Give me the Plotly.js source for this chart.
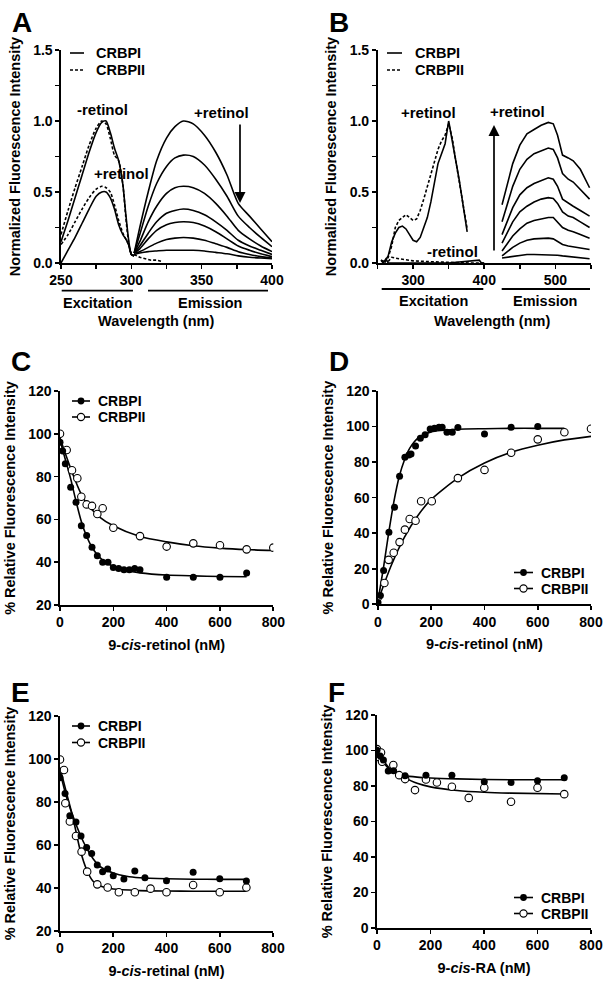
<!DOCTYPE html>
<html><head><meta charset="utf-8">
<script src="https://cdn.plot.ly/plotly-3.0.1.min.js"></script>
<style>html,body{margin:0;padding:0;background:#fff}#chart{width:612px;height:985px}</style>
</head><body><div id="chart"></div>
<script>
// ---------- Panel A : excitation (CRBPI solid, CRBPII dashed) ----------
const aExcWl = [250,255,260,265,270,275,279,282,285,288,291,294,296,298,300,302];
const aExcCRBPI_minus  = [0.15,0.30,0.46,0.62,0.78,0.92,0.99,1.00,0.92,0.81,0.72,0.55,0.35,0.17,0.06,0.05];
const aExcCRBPII_minus = [0.20,0.37,0.53,0.68,0.83,0.95,1.00,0.98,0.88,0.76,0.72,0.55,0.33,0.15,0.06,0.05];
const aExcCRBPI_plus   = [0.00,0.09,0.18,0.28,0.38,0.47,0.50,0.50,0.46,0.38,0.27,0.20,0.17,0.13,0.06,0.05];
const aExcCRBPII_plus  = [0.13,0.20,0.29,0.38,0.46,0.52,0.54,0.53,0.50,0.41,0.30,0.21,0.17,0.13,0.07,0.05];
// Panel A : emission titration (CRBPI)
const aEmWl = [302,306,312,318,325,331,337,344,352,360,368,376,384,392,400];
const aEm1 = [0.07,0.25,0.50,0.72,0.88,0.96,1.00,0.98,0.90,0.78,0.62,0.42,0.33,0.24,0.15];
const aEm2 = [0.07,0.20,0.40,0.56,0.68,0.74,0.76,0.75,0.69,0.59,0.47,0.33,0.25,0.18,0.115];
const aEm3 = [0.07,0.15,0.29,0.40,0.49,0.53,0.54,0.53,0.49,0.42,0.33,0.23,0.17,0.12,0.08];
const aEm4 = [0.07,0.12,0.21,0.29,0.35,0.37,0.38,0.37,0.34,0.29,0.23,0.16,0.12,0.09,0.06];
const aEm5 = [0.07,0.10,0.17,0.23,0.27,0.285,0.29,0.285,0.26,0.22,0.17,0.12,0.09,0.065,0.045];
const aEm6 = [0.07,0.08,0.11,0.14,0.165,0.175,0.18,0.175,0.16,0.135,0.11,0.08,0.06,0.045,0.035];
const aEm7 = [0.06,0.07,0.08,0.085,0.09,0.09,0.09,0.09,0.085,0.075,0.065,0.05,0.04,0.035,0.03];
const aEmDashWl = [302,306,310,314,318,322];
const aEmDash = [0.06,0.04,0.03,0.02,0.02,0.01];

// ---------- Panel B ----------
const bExcWl = [255,260,265,270,275,280,285,290,295,300,305,310,315,320,325,330,335,340,345,350,355,360,365,370,376];
const bExcCRBPI_plus  = [0.02,0.01,0.05,0.15,0.21,0.25,0.26,0.24,0.20,0.16,0.15,0.18,0.25,0.32,0.43,0.57,0.70,0.77,0.84,1.00,0.87,0.72,0.58,0.42,0.22];
const bExcCRBPII_plus = [0.02,0.00,0.04,0.12,0.25,0.30,0.32,0.34,0.32,0.30,0.31,0.37,0.45,0.54,0.63,0.72,0.80,0.86,0.90,0.98,0.88,0.72,0.57,0.42,0.24];
const bMinusDashWl = [265,270,280,290,300,320,340,360,380,400];
const bMinusDash = [0.01,0.04,0.03,0.02,0.015,0.01,0.005,0.005,0.0,0.0];
const bMinusSolidWl = [255,258,262,265,300,350,393,396,400];
const bMinusSolid = [0.02,0.0,0.03,0.0,0.0,0.0,0.02,0.0,0.0];
const bEmWl = [425,432,440,450,460,470,480,490,497,503,510,518,525,535,548];
const bEm1 = [0.41,0.55,0.70,0.83,0.91,0.94,0.97,0.99,0.98,0.90,0.76,0.74,0.72,0.66,0.53];
const bEm2 = [0.29,0.40,0.54,0.66,0.73,0.77,0.79,0.81,0.80,0.74,0.63,0.59,0.57,0.52,0.45];
const bEm3 = [0.20,0.29,0.39,0.48,0.53,0.56,0.58,0.60,0.59,0.54,0.45,0.42,0.40,0.37,0.33];
const bEm4 = [0.14,0.21,0.29,0.36,0.40,0.43,0.45,0.46,0.455,0.42,0.36,0.33,0.32,0.29,0.25];
const bEm5 = [0.085,0.13,0.19,0.24,0.28,0.30,0.31,0.32,0.32,0.29,0.25,0.23,0.22,0.20,0.175];
const bEm6 = [0.05,0.08,0.11,0.14,0.16,0.17,0.175,0.175,0.17,0.15,0.13,0.12,0.115,0.105,0.095];
const bEm7 = [0.035,0.04,0.05,0.055,0.06,0.06,0.06,0.06,0.058,0.055,0.05,0.045,0.04,0.035,0.03];

// ---------- Panel C : 9-cis-retinol quenching ----------
const cI_x = [0,10,20,40,60,80,100,120,140,160,180,200,220,240,260,280,300,400,500,600,700];
const cI_y = [96,92,86,75,68,57,52.5,47,43,40,40,37.5,37,36.5,36.5,37,36.5,33,33,33,35];
const cII_x = [0,25,45,65,80,100,120,140,160,200,300,400,500,600,700,800];
const cII_y = [100,92.4,83,79.2,70.6,67,66.3,62.5,65.2,56.1,52.2,47.3,48.8,47.9,46,46.8];
const cFitI_x = [0,20,40,60,80,100,120,140,160,200,250,300,400,500,600,700];
const cFitI_y = [97,88,79,68.5,59,52,47,43.5,41,38,36,35,34,33.6,33.3,33.2];
const cFitII_x = [0,25,50,75,100,150,200,300,400,500,600,700,800];
const cFitII_y = [98,89,80.5,73,67.5,61,57,52,49.5,47.7,46.6,45.9,45.5];

// ---------- Panel D : 9-cis-retinol enhancement ----------
const dI_x = [0,9,21,41,62,81,101,116,124,141,159,177,196,212,229,241,259,279,300,400,500,600];
const dI_y = [1,5,19,40.5,54.6,72,82.7,84,84.6,89,93.4,95.4,98.6,99,99.6,99.6,96.8,96.8,99.4,95.8,99.6,100];
const dII_x = [0,24,40,59,81,101,119,141,162,202,300,400,500,600,700,800];
const dII_y = [4,12,25,29,35,42,48,47,58,58,71,75.6,85.3,92.8,96.8,98.8];
const dFitI_x = [0,20,40,60,80,100,120,150,200,300,400,500,600,700];
const dFitI_y = [2,20,40,58,72,81.5,88,93.5,97,98.5,98.8,99,99,99];
const dFitII_x = [0,50,100,150,200,300,400,500,600,700,800];
const dFitII_y = [2,22,38,50,59,71,79.5,85.5,89.5,92.5,94.5];

// ---------- Panel E : 9-cis-retinal ----------
const eI_x = [0,19,37,60,79,100,119,140,160,179,200,240,281,319,400,500,600,700];
const eI_y = [91.3,84,73.6,70.7,64.2,58.8,56.1,50.7,47.6,48.8,45.7,44.2,47.9,44.8,43.4,47.3,44.3,43.3];
const eII_x = [0,15,20,37,60,81,102,140,179,221,281,340,400,500,600,700];
const eII_y = [99.8,94.9,79.4,70.9,64.2,56.9,47.6,41.7,40.2,38,38,39.7,38,41.4,38,40.2];
const eFitI_x = [0,25,50,75,100,125,150,200,250,300,400,500,600,700];
const eFitI_y = [94,82,73,65,58.5,53.5,50,47,45.5,44.8,44.3,44.1,44,44];
const eFitII_x = [0,25,50,75,100,125,150,200,300,400,500,700];
const eFitII_y = [96,84,72,58,48.5,43,41,39.5,38.8,38.6,38.5,38.5];

// ---------- Panel F : 9-cis-RA ----------
const fI_x = [0,12,24,42,62,105,183,280,401,501,600,700];
const fI_y = [100.2,96.9,94.6,88.4,88.6,85.8,86.1,86,82.4,82,82.9,84.6];
const fII_x = [0,9,15,19,61,83,105,142,183,224,280,343,401,501,600,700];
const fII_y = [100.8,96.1,98.9,93.7,91.8,86.1,83.9,77.7,83.7,82,79.6,73.3,79,71.1,79,75.4];
const fFitI_x = [0,25,50,75,100,150,200,300,500,700];
const fFitI_y = [98,93,89,87,86,85,84.5,84,83.5,83.5];
const fFitII_x = [0,25,50,100,150,200,300,400,500,700];
const fFitII_y = [99,94,89.5,85,81.5,79.5,77.5,76.5,76,75.5];

const legendNames = ['CRBPI','CRBPII'];

// ------------------------------------------------------------------
const W = 612, H = 985;
const px = x => x / W, py = y => 1 - y / H;
const FONT = 'Liberation Sans, Arial, Helvetica, sans-serif';
const DASH = '3px,2px';
const traces = [];
function ln(ax, xs, ys, dash, smooth) {
  traces.push({type:'scatter', mode:'lines', x:xs, y:ys, xaxis:'x'+ax, yaxis:'y'+ax,
    line:{color:'black', width:1.6, dash:dash||'solid', shape: smooth ? 'spline':'linear', smoothing:0.7},
    hoverinfo:'skip', showlegend:false});
}
function pts(ax, xs, ys, open) {
  traces.push({type:'scatter', mode:'markers', x:xs, y:ys, xaxis:'x'+ax, yaxis:'y'+ax,
    marker: open ? {symbol:'circle', size:7.5, color:'white', line:{color:'black', width:1.1}}
                 : {symbol:'circle', size:7, color:'black', line:{color:'black', width:0}},
    hoverinfo:'skip', showlegend:false});
}
// A
ln('', aExcWl, aExcCRBPI_minus, 'solid', true);
ln('', aExcWl, aExcCRBPII_minus, DASH, true);
ln('', aExcWl, aExcCRBPI_plus, 'solid', true);
ln('', aExcWl, aExcCRBPII_plus, DASH, true);
[aEm1,aEm2,aEm3,aEm4,aEm5,aEm6,aEm7].forEach(c => ln('', aEmWl, c, 'solid', true));
ln('', aEmDashWl, aEmDash, DASH, false);
// B
ln('2', bExcWl, bExcCRBPII_plus, DASH, false);
ln('2', bExcWl, bExcCRBPI_plus, 'solid', false);
ln('2', bMinusDashWl, bMinusDash, DASH, false);
ln('2', bMinusSolidWl, bMinusSolid, 'solid', false);
[bEm1,bEm2,bEm3,bEm4,bEm5,bEm6,bEm7].forEach(c => ln('2', bEmWl, c, 'solid', false));
// C
ln('3', cFitI_x, cFitI_y, 'solid', true); ln('3', cFitII_x, cFitII_y, 'solid', true);
pts('3', cII_x, cII_y, true); pts('3', cI_x, cI_y, false);
// D
ln('4', dFitI_x, dFitI_y, 'solid', true); ln('4', dFitII_x, dFitII_y, 'solid', true);
pts('4', dII_x, dII_y, true); pts('4', dI_x, dI_y, false);
// E
ln('5', eFitI_x, eFitI_y, 'solid', true); ln('5', eFitII_x, eFitII_y, 'solid', true);
pts('5', eII_x, eII_y, true); pts('5', eI_x, eI_y, false);
// F
ln('6', fFitI_x, fFitI_y, 'solid', true); ln('6', fFitII_x, fFitII_y, 'solid', true);
pts('6', fII_x, fII_y, true); pts('6', fI_x, fI_y, false);

function axis(dom, range, extra) {
  return Object.assign({domain:dom, range:range, showline:true, linecolor:'black', linewidth:1.6,
    ticks:'outside', ticklen:4, tickwidth:1.6, tickcolor:'black', showgrid:false, zeroline:false,
    fixedrange:true, tickfont:{family:FONT, size:14, color:'black', weight:'bold'}}, extra||{});
}
const ytitleFont = {family:FONT, size:14.5, color:'black', weight:'bold'};
const xtitleFont = {family:FONT, size:14.5, color:'black', weight:'bold'};
const yAB = [py(263), py(50)];
const minorTicks = d => ({dtick:d, ticks:'outside', ticklen:4, tickwidth:1.6, tickcolor:'black'});
const layout = {
  width:W, height:H, margin:{l:0,r:0,t:0,b:0}, paper_bgcolor:'white', plot_bgcolor:'rgba(0,0,0,0)',
  showlegend:false, hovermode:false, font:{family:FONT, color:'black'},
  xaxis: axis([px(61), px(272)], [250,400], {tickvals:[250,300,350,400], minor:minorTicks(25), anchor:'y'}),
  yaxis: axis(yAB, [0,1.5], {tickvals:[0,0.5,1,1.5], tickformat:'.1f', minor:minorTicks(0.25), anchor:'x',
    title:{text:'Normalized Fluorescence Intensity', font:ytitleFont, standoff:9}}),
  xaxis2: axis([px(377.5), px(591)], [250,550], {tickvals:[300,400,500], minor:minorTicks(50), anchor:'y2'}),
  yaxis2: axis(yAB, [0,1.5], {tickvals:[0,0.5,1,1.5], tickformat:'.1f', minor:minorTicks(0.25), anchor:'x2',
    title:{text:'Normalized Fluorescence Intensity', font:ytitleFont, standoff:9}}),
  xaxis3: axis([px(60), px(273.3)], [0,800], {dtick:200, anchor:'y3',
    title:{text:'9-<i>cis</i>-retinol (nM)', font:xtitleFont, standoff:10}}),
  yaxis3: axis([py(605), py(391)], [20,120], {dtick:20, anchor:'x3',
    title:{text:'% Relative Fluorescence Intensity', font:ytitleFont, standoff:9}}),
  xaxis4: axis([px(378), px(591)], [0,800], {dtick:200, anchor:'y4',
    title:{text:'9-<i>cis</i>-retinol (nM)', font:xtitleFont, standoff:10}}),
  yaxis4: axis([py(604.3), py(391)], [0,120], {dtick:20, anchor:'x4',
    title:{text:'% Relative Fluorescence Intensity', font:ytitleFont, standoff:9}}),
  xaxis5: axis([px(60), px(273)], [0,800], {dtick:200, anchor:'y5',
    title:{text:'9-<i>cis</i>-retinal (nM)', font:xtitleFont, standoff:10}}),
  yaxis5: axis([py(931), py(716)], [20,120], {dtick:20, anchor:'x5',
    title:{text:'% Relative Fluorescence Intensity', font:ytitleFont, standoff:9}}),
  xaxis6: axis([px(377), px(591)], [0,800], {dtick:200, anchor:'y6',
    title:{text:'9-<i>cis</i>-RA (nM)', font:xtitleFont, standoff:10}}),
  yaxis6: axis([py(928), py(715)], [0,120], {dtick:20, anchor:'x6',
    title:{text:'% Relative Fluorescence Intensity', font:ytitleFont, standoff:9}}),
  annotations: [], shapes: []
};
const A = layout.annotations, S = layout.shapes;
function txt(x, y, t, size, xanchor) {
  A.push({xref:'paper', yref:'paper', x:px(x), y:py(y), text:t, showarrow:false,
    xanchor:xanchor||'center', yanchor:'middle', font:{family:FONT, size:size, color:'black', weight:'bold'}});
}
function seg(x0, y0, x1, y1, dash, w) {
  S.push({type:'line', xref:'paper', yref:'paper', x0:px(x0), y0:py(y0), x1:px(x1), y1:py(y1),
    line:{color:'black', width:w||1.6, dash:dash||'solid'}});
}
function dot(x, y, open) {
  const r = open ? 3.6 : 3.4;
  S.push({type:'circle', xref:'paper', yref:'paper', x0:px(x-r), x1:px(x+r), y0:py(y+r), y1:py(y-r),
    fillcolor: open ? 'white' : 'black', line:{color:'black', width: open ? 1.1 : 0}});
}
function arrow(x, yHead, dy) {
  A.push({xref:'paper', yref:'paper', x:px(x), y:py(yHead), ax:0, ay:dy, axref:'pixel', ayref:'pixel',
    text:'', showarrow:true, arrowhead:2, arrowsize:1.3, arrowwidth:1.7, arrowcolor:'black'});
}
// panel letters
txt(21.5, 22.5, 'A', 28); txt(339, 22.5, 'B', 28);
txt(21, 361, 'C', 28); txt(338.5, 361, 'D', 28);
txt(20, 692.5, 'E', 28); txt(336, 692.5, 'F', 28);
// A/B legends (lines)
seg(70, 53, 84, 53); txt(94, 53, legendNames[0], 14.5, 'left');
seg(70, 70, 84, 70, DASH); txt(94, 70, legendNames[1], 14.5, 'left');
seg(387, 53, 402, 53); txt(413, 53, legendNames[0], 14.5, 'left');
seg(387, 70, 402, 70, DASH); txt(413, 70, legendNames[1], 14.5, 'left');
// A/B annotations
txt(102.7, 109.5, '-retinol', 15); txt(121.7, 173.5, '+retinol', 15); txt(221.7, 113, '+retinol', 15);
arrow(240, 203, -80);
txt(429, 113, '+retinol', 15); txt(452.7, 251.5, '-retinol', 15); txt(517, 111.7, '+retinol', 15);
arrow(494, 125, 127);
// Excitation / Emission underlines and labels
seg(61.7, 290.7, 133, 290.7, 'solid', 1.8); seg(148, 290.7, 268, 290.7, 'solid', 1.8);
txt(97.5, 303, 'Excitation', 14.5); txt(209.7, 303, 'Emission', 14.5); txt(155.5, 321, 'Wavelength (nm)', 14.5);
seg(381.7, 289, 483.3, 289, 'solid', 1.8); seg(501.7, 289, 590, 289, 'solid', 1.8);
txt(433.3, 301, 'Excitation', 14.5); txt(545.3, 301, 'Emission', 14.5); txt(492, 321, 'Wavelength (nm)', 14.5);
// C-F legends (line + marker)
function legItem(x0, x1, y, open, name) {
  seg(x0, y, x1, y); dot((x0+x1)/2, y, open); txt(x1 + 6, y, name, 14, 'left');
}
legItem(72, 90, 401, false, legendNames[0]); legItem(72, 90, 417, true, legendNames[1]);
legItem(514, 533, 572.5, false, legendNames[0]); legItem(514, 533, 588.5, true, legendNames[1]);
legItem(72, 90, 726, false, legendNames[0]); legItem(72, 90, 742.5, true, legendNames[1]);
legItem(514, 533, 897.5, false, legendNames[0]); legItem(514, 533, 913.5, true, legendNames[1]);

Plotly.newPlot('chart', traces, layout, {staticPlot:true, displayModeBar:false});
</script></body></html>
